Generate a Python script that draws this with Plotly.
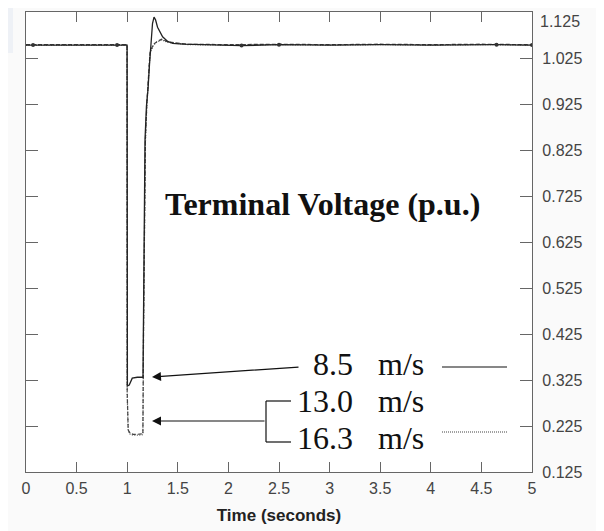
import plotly.graph_objects as go

# ---------------- data ----------------
x_ticks = [0, 0.5, 1, 1.5, 2, 2.5, 3, 3.5, 4, 4.5, 5]
x_ticklabels = ["0", "0.5", "1", "1.5", "2", "2.5", "3", "3.5", "4", "4.5", "5"]
y_ticks = [0.125, 0.225, 0.325, 0.425, 0.525, 0.625, 0.725, 0.825, 0.925, 1.025, 1.125]
y_ticklabels = ["0.125", "0.225", "0.325", "0.425", "0.525", "0.625", "0.725", "0.825", "0.925", "1.025", "1.125"]

t_85 = [0, 0.5, 0.9, 0.999, 1.002, 1.02, 1.05, 1.10, 1.156, 1.165, 1.176, 1.19, 1.206, 1.22, 1.235,
        1.25, 1.265, 1.28, 1.30, 1.325, 1.35, 1.40, 1.45, 1.55, 1.8, 2.13, 2.5, 3.0, 3.5, 4.0, 4.65, 5.0]
v_85 = [1.053, 1.053, 1.053, 1.053, 0.312, 0.314, 0.329, 0.331, 0.331, 0.60, 0.847, 0.92, 0.958, 1.01, 1.06,
        1.10, 1.114, 1.108, 1.092, 1.080, 1.071, 1.061, 1.057, 1.055, 1.054, 1.052, 1.054, 1.053, 1.054, 1.053, 1.054, 1.053]

t_130 = [0, 0.5, 0.9, 0.998, 1.0, 1.01, 1.03, 1.06, 1.10, 1.155, 1.162, 1.17, 1.18, 1.195, 1.21, 1.225,
         1.24, 1.26, 1.29, 1.34, 1.40, 1.49, 1.6, 2.0, 2.5, 3.0, 3.5, 4.0, 4.5, 5.0]
v_130 = [1.054, 1.054, 1.054, 1.054, 0.30, 0.216, 0.209, 0.207, 0.207, 0.208, 0.45, 0.70, 0.85, 0.93, 0.99, 1.036,
         1.045, 1.055, 1.060, 1.066, 1.060, 1.058, 1.055, 1.054, 1.055, 1.054, 1.055, 1.054, 1.055, 1.054]

t_163 = [0, 0.5, 0.9, 0.998, 1.0, 1.01, 1.03, 1.06, 1.10, 1.155, 1.162, 1.17, 1.18, 1.195, 1.21, 1.225,
         1.24, 1.26, 1.29, 1.34, 1.40, 1.49, 1.6, 2.0, 2.5, 3.0, 3.5, 4.0, 4.5, 5.0]
v_163 = [1.053, 1.053, 1.053, 1.053, 0.29, 0.214, 0.207, 0.205, 0.205, 0.206, 0.44, 0.69, 0.84, 0.925, 0.985, 1.032,
         1.043, 1.053, 1.059, 1.064, 1.059, 1.057, 1.054, 1.053, 1.054, 1.053, 1.054, 1.053, 1.054, 1.053]

marker_t = [0.07, 0.9, 2.13, 2.5, 4.65, 5.0]
marker_v = [1.053, 1.053, 1.052, 1.054, 1.054, 1.053]

speed_labels = ["8.5", "13.0", "16.3"]
unit_label = "m/s"
title_text = "Terminal Voltage (p.u.)"
x_title = "Time (seconds)"

# ---------------- geometry (screen pixels; page body has an 8px margin) ----------------
OFF = 8
W, H = 604 - OFF, 531 - OFF
PL, PR, PT, PB = 26, 532, 12, 472          # plot area in screen pixels
XR = [0, 5]
YR = [0.125, 1.125]


def tx(px):
    return XR[0] + (px - PL) / (PR - PL) * (XR[1] - XR[0])


def vy(py):
    return YR[1] - (py - PT) / (PB - PT) * (YR[1] - YR[0])


def paper_x(px):
    return (px - PL) / (PR - PL)


def paper_y(py):
    return (PB - py) / (PB - PT)


fig = go.Figure()

fig.add_trace(go.Scatter(x=t_163, y=v_163, mode="lines",
                         line=dict(color="#555555", width=1.2, dash="1px,1.5px"), hoverinfo="skip"))
fig.add_trace(go.Scatter(x=t_130, y=v_130, mode="lines",
                         line=dict(color="#444444", width=1.2, dash="4px,2px"), hoverinfo="skip"))
fig.add_trace(go.Scatter(x=t_85, y=v_85, mode="lines",
                         line=dict(color="#222222", width=1.3), hoverinfo="skip"))
fig.add_trace(go.Scatter(x=marker_t, y=marker_v, mode="markers",
                         marker=dict(color="#333333", size=4, symbol="circle"), hoverinfo="skip"))

serif = "Liberation Serif, Times New Roman, serif"
sans = "Liberation Sans, Arial, sans-serif"
ink = "#111111"
labcol = "#444444"

# the top tick label sits just below its tick (kept inside the picture)
shown_ylabels = y_ticklabels[:-1] + [""]

annotations = [
    dict(x=tx(322), y=vy(204), xref="x", yref="y", text="<b>" + title_text + "</b>",
         showarrow=False, xanchor="center", yanchor="middle",
         font=dict(family=serif, size=32, color=ink)),
    dict(x=paper_x(538), y=paper_y(21), xref="paper", yref="paper", text=y_ticklabels[-1],
         showarrow=False, xanchor="left", yanchor="middle",
         font=dict(family=sans, size=16, color=labcol)),
]
row_y = [364, 401, 438]
for lab, ry in zip(speed_labels, row_y):
    annotations.append(dict(x=tx(355), y=vy(ry), xref="x", yref="y", text=lab, showarrow=False,
                            xanchor="right", yanchor="middle",
                            font=dict(family=serif, size=32, color=ink)))
    annotations.append(dict(x=tx(376), y=vy(ry), xref="x", yref="y", text=unit_label, showarrow=False,
                            xanchor="left", yanchor="middle",
                            font=dict(family=serif, size=32, color=ink)))

# arrows
annotations.append(dict(x=tx(152), y=vy(377), ax=tx(300), ay=vy(367), xref="x", yref="y",
                        axref="x", ayref="y", text="", showarrow=True, arrowhead=2,
                        arrowsize=1.5, arrowwidth=1.2, arrowcolor=ink, standoff=0))
annotations.append(dict(x=tx(152), y=vy(421), ax=tx(266), ay=vy(421), xref="x", yref="y",
                        axref="x", ayref="y", text="", showarrow=True, arrowhead=2,
                        arrowsize=1.5, arrowwidth=1.2, arrowcolor=ink, standoff=0))

shapes = [
    # faint tinted corner of the scan
    dict(type="rect", xref="paper", yref="paper", x0=paper_x(OFF), x1=paper_x(13),
         y0=paper_y(53), y1=paper_y(OFF), fillcolor="#eef1f6", line=dict(width=0), layer="below"),
    # bracket
    dict(type="line", xref="x", yref="y", x0=tx(266), x1=tx(266), y0=vy(401), y1=vy(442),
         line=dict(color=ink, width=1.2)),
    dict(type="line", xref="x", yref="y", x0=tx(266), x1=tx(291), y0=vy(401), y1=vy(401),
         line=dict(color=ink, width=1.2)),
    dict(type="line", xref="x", yref="y", x0=tx(266), x1=tx(291), y0=vy(442), y1=vy(442),
         line=dict(color=ink, width=1.2)),
    # legend samples
    dict(type="line", xref="x", yref="y", x0=tx(442), x1=tx(507), y0=vy(367), y1=vy(367),
         line=dict(color=ink, width=1.2)),
    dict(type="line", xref="x", yref="y", x0=tx(442), x1=tx(507), y0=vy(432), y1=vy(432),
         line=dict(color="#444444", width=1.2, dash="1px,1px")),
]

tickfont = dict(family=sans, size=16, color=labcol)
axcol = "#666666"

fig.update_layout(
    width=W, height=H, autosize=False,
    margin=dict(l=PL - OFF, r=604 - PR, t=PT - OFF, b=531 - PB, pad=0),
    paper_bgcolor="#fafafa", plot_bgcolor="#ffffff",
    showlegend=False,
    annotations=annotations, shapes=shapes,
    xaxis=dict(range=XR, tickvals=x_ticks, ticktext=x_ticklabels, ticks="inside", ticklen=10,
               tickwidth=1.2, tickcolor=axcol, showline=True, linecolor=axcol, linewidth=1.2,
               mirror="ticks", showgrid=False, zeroline=False, tickfont=tickfont,
               ticklabelstandoff=2,
               title=dict(text="<b>" + x_title + "</b>", standoff=12,
                          font=dict(family=sans, size=17, color="#222222"))),
    yaxis=dict(range=YR, tickvals=y_ticks, ticktext=shown_ylabels, side="right", ticks="inside",
               ticklen=12, tickwidth=1.2, tickcolor=axcol, showline=True, linecolor=axcol,
               linewidth=1.2, mirror="ticks", showgrid=False, zeroline=False, tickfont=tickfont,
               ticklabelstandoff=6),
)

fig.write_html("out.html")
